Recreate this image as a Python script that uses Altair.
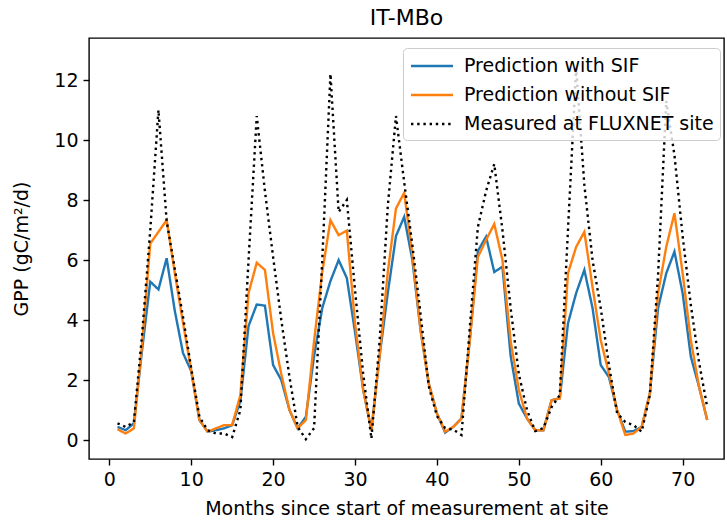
import altair as alt
import pandas as pd

months = list(range(1, 74))

with_sif = [0.44, 0.33, 0.56, 3.0, 5.28, 5.02, 6.06, 4.3, 2.9, 2.3,
            0.67, 0.28, 0.33, 0.39, 0.5, 1.3, 3.8, 4.52, 4.48, 2.5,
            2.0, 1.0, 0.39, 0.78, 2.8, 4.4, 5.3, 6.0, 5.4, 3.6,
            1.67, 0.33, 2.8, 4.9, 6.8, 7.44, 6.0, 3.67, 1.89, 0.89,
            0.25, 0.44, 0.72, 3.3, 6.3, 6.78, 5.6, 5.78, 2.8, 1.22,
            0.72, 0.33, 0.33, 1.33, 1.39, 3.89, 4.9, 5.67, 4.4, 2.5,
            2.1, 1.0, 0.28, 0.3, 0.44, 1.56, 4.4, 5.56, 6.28, 4.89,
            2.78, 1.78, 0.67]

without_sif = [0.36, 0.22, 0.39, 3.2, 6.55, 6.94, 7.33, 5.56, 3.9, 2.33,
               0.67, 0.28, 0.39, 0.5, 0.5, 1.5, 4.9, 5.91, 5.67, 3.56,
               2.2, 1.0, 0.39, 0.67, 3.3, 5.6, 7.33, 6.83, 6.98, 3.9,
               1.67, 0.33, 2.8, 5.6, 7.72, 8.24, 6.2, 3.67, 1.89, 0.89,
               0.28, 0.44, 0.72, 3.3, 6.1, 6.67, 7.2, 6.0, 3.3, 1.67,
               0.72, 0.33, 0.33, 1.33, 1.39, 5.56, 6.44, 6.94, 5.1, 3.33,
               2.22, 1.0, 0.17, 0.22, 0.44, 1.56, 4.9, 6.44, 7.56, 5.56,
               3.33, 1.78, 0.67]

measured = [0.56, 0.44, 0.6, 3.5, 7.0, 11.0, 7.3, 5.7, 4.1, 2.4,
            0.78, 0.33, 0.22, 0.22, 0.1, 1.0, 6.0, 10.8, 8.3, 6.1,
            4.0, 2.1, 0.44, 0.03, 0.4, 6.0, 12.2, 7.6, 8.0, 5.0,
            2.2, 0.05, 3.3, 7.8, 10.8, 8.6, 6.5, 4.2, 1.8, 0.8,
            0.4, 0.35, 0.17, 3.7, 7.1, 8.3, 9.2, 7.0, 4.4, 2.2,
            1.0, 0.3, 0.4, 1.1, 1.5, 7.0, 12.4, 8.5, 6.0, 4.4,
            2.5, 0.9, 0.6, 0.5, 0.28, 1.5, 5.5, 11.3, 9.5, 6.8,
            4.5, 2.6, 1.1]

names = ["Prediction with SIF", "Prediction without SIF", "Measured at FLUXNET site"]
colors = ["#1f77b4", "#ff7f0e", "#000000"]
dashes = [[1, 0], [1, 0], [2.4, 3.8]]

rows = []
for name, vals in zip(names, [with_sif, without_sif, measured]):
    for m, v in zip(months, vals):
        rows.append({"month": m, "gpp": v, "series": name})
df = pd.DataFrame(rows)

FONT = "DejaVu Sans"

x = alt.X("month:Q",
          scale=alt.Scale(domain=[-2.48, 75.05], nice=False, zero=False),
          axis=alt.Axis(values=list(range(0, 80, 10)),
                        title="Months since start of measurement at site"))
y = alt.Y("gpp:Q",
          scale=alt.Scale(domain=[-0.63, 13.4], nice=False, zero=False),
          axis=alt.Axis(values=list(range(0, 14, 2)), title="GPP (gC/m²/d)"))
color = alt.Color("series:N", scale=alt.Scale(domain=names, range=colors),
                  legend=alt.Legend(title=None))
dash = alt.StrokeDash("series:N", scale=alt.Scale(domain=names, range=dashes),
                      legend=alt.Legend(title=None))

layers = []
for name in names:
    layers.append(
        alt.Chart(df).transform_filter(alt.datum.series == name)
        .mark_line(strokeWidth=2.4, clip=True)
        .encode(x=x, y=y, color=color, strokeDash=dash, order="month:Q")
    )

chart = alt.layer(*layers).properties(
    width=635, height=421,
    title=alt.TitleParams("IT-MBo", fontSize=22, font=FONT, fontWeight="normal",
                          color="black", offset=8, anchor="middle"),
    autosize=alt.AutoSizeParams(type="none"),
    padding={"left": 89, "top": 38, "right": 3, "bottom": 61},
).configure_view(
    stroke="black", strokeWidth=1.4
).configure_axis(
    grid=False, domain=False,
    labelFont=FONT, labelFontSize=19, labelColor="black",
    titleFont=FONT, titleFontSize=19, titleFontWeight="normal", titleColor="black",
    tickColor="black", tickSize=6, tickWidth=1.4, labelPadding=5,
).configure_axisY(
    titlePadding=22
).configure_axisX(
    titlePadding=10
).configure_legend(
    orient="none", legendX=314, legendY=10,
    padding=6, fillColor="rgba(255,255,255,0.8)", strokeColor="#cccccc",
    cornerRadius=4, symbolType="M-2,0H2", symbolSize=441, symbolStrokeWidth=2.4,
    symbolOffset=11, symbolFillColor="transparent",
    labelFont=FONT, labelFontSize=19, labelColor="black", labelOffset=20,
    labelLimit=0, rowPadding=7,
)

chart.save("out.html", embed_options={"renderer": "svg", "actions": False})
